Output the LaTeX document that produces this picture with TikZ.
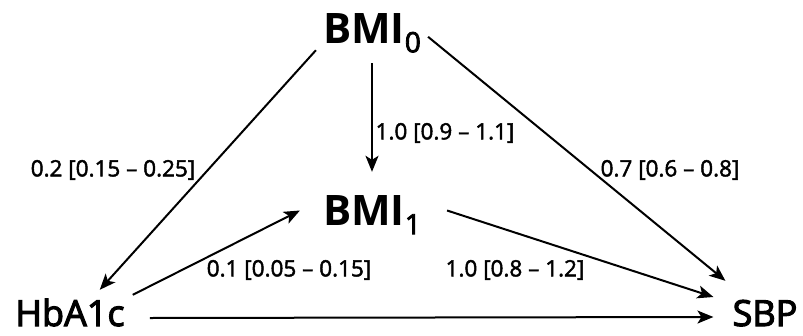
\documentclass[tikz,border=0pt]{standalone}
\usepackage{fontspec}
\setmainfont{Open Sans}
\newfontfamily\semifont{Open Sans}[FakeBold=3]
\newfontfamily\labfont{Open Sans}[FakeBold=2]
\usetikzlibrary{arrows.meta}
\tikzset{
  big/.style={inner sep=0pt, anchor=base, font=\fontsize{42}{42}\selectfont\bfseries, text height=30pt, text depth=9pt},
  mid/.style={inner sep=0pt, anchor=base, font=\fontsize{36}{36}\selectfont\semifont, text height=26pt, text depth=0pt},
  lab/.style={inner sep=0pt, font=\fontsize{22.5}{22.5}\selectfont\labfont},
  arr/.style={line width=2pt, -{Stealth[length=16pt,width=13pt,inset=4pt]}}
}
\newcommand{\subz}[1]{\raisebox{-0.22em}{\fontsize{28}{28}\selectfont\mdseries\semifont #1}}
\begin{document}
\begin{tikzpicture}[x=1pt,y=-1pt]
\useasboundingbox (0,0) rectangle (803,335);
\node[big] (b0) at (372,43) {BMI\subz{0}};
\node[big] (b1) at (372,225) {BMI\subz{1}};
\node[mid] (hb) at (70,326) {HbA1c};
\node[mid] (sbp) at (765,326) {SBP};

\node[lab] (l1) at (113,170) {0.2 [0.15 – 0.25]};
\node[lab] (l2) at (445,133) {1.0 [0.9 – 1.1]};
\node[lab] (l3) at (670,170) {0.7 [0.6 – 0.8]};
\node[lab] (l4) at (289,270) {0.1 [0.05 – 0.15]};
\node[lab] (l5) at (515,270) {1.0 [0.8 – 1.2]};

\draw[arr] ([shift={(-7,-2)}]b0.south west) -- ([shift={(-25,-10)}]hb.north east);
\draw[arr] ([shift={(0,11)}]b0.south) -- ([shift={(0,-23)}]b1.north);
\draw[arr] ([shift={(7,24)}]b0.north east) -- ([shift={(-7,-19)}]sbp.north west);
\draw[arr] ([shift={(8,-5)}]hb.north east) -- ([shift={(-23,-4)}]b1.west);
\draw[arr] ([shift={(26,-4)}]b1.east) -- ([shift={(-19,-16)}]sbp.west);
\draw[arr] ([shift={(25,5)}]hb.east) -- ([shift={(-19,4)}]sbp.west);
\end{tikzpicture}
\end{document}
